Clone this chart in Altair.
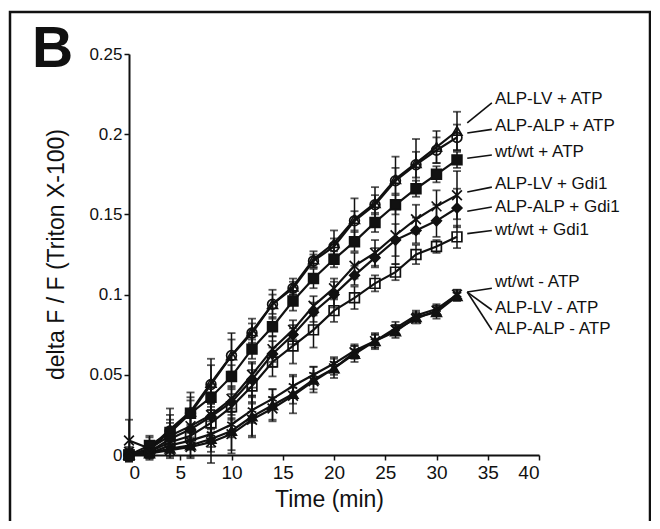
import altair as alt
import pandas as pd

times = list(range(0, 33, 2))

series = ["ALP-LV + ATP", "ALP-ALP + ATP", "wt/wt + ATP",
          "ALP-LV + Gdi1", "ALP-ALP + Gdi1", "wt/wt + Gdi1",
          "wt/wt - ATP", "ALP-LV - ATP", "ALP-ALP - ATP"]

alp_lv_atp = [0.000, 0.004, 0.016, 0.027, 0.045, 0.062, 0.077, 0.094, 0.105, 0.122, 0.132, 0.147, 0.157, 0.172, 0.182, 0.192, 0.202]
alp_lv_atp_err = [0.004, 0.007, 0.013, 0.012, 0.015, 0.014, 0.008, 0.009, 0.005, 0.005, 0.008, 0.013, 0.010, 0.014, 0.015, 0.010, 0.012]

alp_alp_atp = [0.000, 0.003, 0.015, 0.026, 0.044, 0.062, 0.076, 0.094, 0.104, 0.121, 0.130, 0.146, 0.156, 0.171, 0.181, 0.190, 0.198]
alp_alp_atp_err = [0.003, 0.005, 0.010, 0.010, 0.012, 0.010, 0.006, 0.006, 0.004, 0.004, 0.005, 0.006, 0.006, 0.008, 0.008, 0.008, 0.008]

wt_atp = [0.000, 0.006, 0.014, 0.026, 0.036, 0.049, 0.066, 0.080, 0.096, 0.110, 0.122, 0.133, 0.145, 0.156, 0.166, 0.175, 0.184]
wt_atp_err = [0.002, 0.006, 0.008, 0.008, 0.008, 0.007, 0.006, 0.006, 0.006, 0.006, 0.005, 0.006, 0.006, 0.006, 0.005, 0.005, 0.005]

alp_lv_gdi = [0.009, 0.004, 0.012, 0.018, 0.025, 0.035, 0.050, 0.066, 0.078, 0.093, 0.104, 0.118, 0.126, 0.137, 0.147, 0.155, 0.162]
alp_lv_gdi_err = [0.013, 0.004, 0.008, 0.008, 0.008, 0.008, 0.008, 0.008, 0.006, 0.006, 0.006, 0.008, 0.008, 0.018, 0.009, 0.010, 0.015]

alp_alp_gdi = [0.000, 0.002, 0.010, 0.016, 0.024, 0.033, 0.047, 0.063, 0.075, 0.089, 0.100, 0.112, 0.123, 0.134, 0.140, 0.146, 0.154]
alp_alp_gdi_err = [0.003, 0.003, 0.006, 0.008, 0.008, 0.008, 0.010, 0.008, 0.006, 0.006, 0.008, 0.006, 0.006, 0.010, 0.008, 0.010, 0.012]

wt_gdi = [0.000, 0.002, 0.008, 0.012, 0.020, 0.030, 0.043, 0.058, 0.068, 0.078, 0.090, 0.098, 0.107, 0.114, 0.125, 0.130, 0.136]
wt_gdi_err = [0.003, 0.003, 0.006, 0.007, 0.008, 0.008, 0.010, 0.009, 0.011, 0.011, 0.007, 0.007, 0.005, 0.005, 0.006, 0.004, 0.007]

wt_noatp = [0.000, 0.001, 0.006, 0.009, 0.013, 0.019, 0.028, 0.035, 0.043, 0.050, 0.057, 0.065, 0.071, 0.079, 0.087, 0.091, 0.100]
wt_noatp_err = [0.003, 0.002, 0.004, 0.005, 0.008, 0.008, 0.008, 0.006, 0.006, 0.005, 0.004, 0.004, 0.004, 0.004, 0.003, 0.003, 0.003]

alp_lv_noatp = [0.000, 0.001, 0.004, 0.006, 0.010, 0.015, 0.024, 0.031, 0.038, 0.047, 0.054, 0.063, 0.071, 0.077, 0.086, 0.089, 0.099]
alp_lv_noatp_err = [0.004, 0.003, 0.006, 0.008, 0.015, 0.014, 0.013, 0.010, 0.012, 0.008, 0.006, 0.005, 0.005, 0.004, 0.003, 0.004, 0.003]

alp_alp_noatp = [0.002, 0.001, 0.003, 0.005, 0.008, 0.013, 0.022, 0.029, 0.037, 0.046, 0.054, 0.064, 0.071, 0.078, 0.085, 0.090, 0.100]
alp_alp_noatp_err = [0.003, 0.002, 0.004, 0.006, 0.006, 0.010, 0.010, 0.007, 0.005, 0.005, 0.004, 0.004, 0.004, 0.003, 0.003, 0.003, 0.003]

values = [alp_lv_atp, alp_alp_atp, wt_atp, alp_lv_gdi, alp_alp_gdi, wt_gdi,
          wt_noatp, alp_lv_noatp, alp_alp_noatp]
errors = [alp_lv_atp_err, alp_alp_atp_err, wt_atp_err, alp_lv_gdi_err, alp_alp_gdi_err,
          wt_gdi_err, wt_noatp_err, alp_lv_noatp_err, alp_alp_noatp_err]

X_PATH = "M-1,-1L1,1M-1,1L1,-1"
STAR_PATH = "M0,-1L0,1M-0.87,-0.5L0.87,0.5M-0.87,0.5L0.87,-0.5"
shapes = ["triangle-up", "circle", "square", X_PATH, "diamond", "square",
          STAR_PATH, "triangle-up", X_PATH]
fills = ["transparent", "transparent", "#111111", "transparent", "#111111",
         "transparent", "transparent", "#111111", "transparent"]

# label annotation values (y in data units)
label_y = [0.222, 0.205, 0.189, 0.169, 0.1546, 0.140, 0.108, 0.0916, 0.0786]
leader_from = [0.207, 0.2007, 0.185, 0.164, 0.152, 0.138, 0.1016, 0.1016, 0.1016]
leader_to = [0.2195, 0.203, 0.187, 0.167, 0.1546, 0.140, 0.104, 0.0904, 0.0779]

rows = []
for s, vals, errs in zip(series, values, errors):
    for t, v, e in zip(times, vals, errs):
        rows.append({"series": s, "t": t, "v": v, "lo": v - e, "hi": v + e})
df = pd.DataFrame(rows)

lab = pd.DataFrame({"series": series, "ly": label_y, "fy": leader_from, "ty": leader_to,
                    "lt": [35.7] * 9, "t0": [33.0] * 9, "t1": [35.4] * 9})

INK = "#111111"
xs = alt.Scale(domain=[0, 40], nice=False, zero=False)
ys = alt.Scale(domain=[0, 0.25], nice=False, zero=False)

xaxis = alt.Axis(values=[0, 5, 10, 15, 20, 25, 30, 35, 40], format="d", title="Time (min)",
                 labelFontSize=19, titleFontSize=23, tickSize=5, labelPadding=3,
                 domainWidth=2, domainColor=INK, tickColor=INK, tickWidth=1.5,
                 labelColor=INK, titleColor=INK, grid=False, titleX=200, titleY=51,
                 titleBaseline="alphabetic", titleFontWeight="normal",
                 labelFont="Liberation Sans", titleFont="Liberation Sans")
yaxis = alt.Axis(values=[0, 0.05, 0.1, 0.15, 0.2, 0.25], format="~g",
                 title="delta F / F (Triton X-100)",
                 labelFontSize=17, titleFontSize=23, tickSize=5, labelPadding=2,
                 domainWidth=2, domainColor=INK, tickColor=INK, tickWidth=1.5,
                 labelColor=INK, titleColor=INK, grid=False, titleX=-73, titleY=200,
                 titleAngle=270, titleAlign="center", titleBaseline="middle",
                 titleFontWeight="normal",
                 labelFont="Liberation Sans", titleFont="Liberation Sans")

base = alt.Chart(df)

lines = base.mark_line(color=INK, strokeWidth=2.2).encode(
    x=alt.X("t:Q", scale=xs, axis=xaxis),
    y=alt.Y("v:Q", scale=ys, axis=yaxis),
    detail="series:N",
)

bars = base.mark_rule(color=INK, strokeWidth=1.5).encode(
    x="t:Q", y="lo:Q", y2="hi:Q")
cap_hi = base.mark_tick(orient="horizontal", size=8, thickness=1.8, color=INK).encode(
    x="t:Q", y="hi:Q")
cap_lo = base.mark_tick(orient="horizontal", size=8, thickness=1.8, color=INK).encode(
    x="t:Q", y="lo:Q")

points = base.mark_point(filled=True, stroke=INK, strokeWidth=1.7, size=95, opacity=1).encode(
    x="t:Q", y="v:Q",
    shape=alt.Shape("series:N", scale=alt.Scale(domain=series, range=shapes), legend=None),
    fill=alt.Fill("series:N", scale=alt.Scale(domain=series, range=fills), legend=None),
)

leaders = alt.Chart(lab).mark_rule(color=INK, strokeWidth=1.6).encode(
    x="t0:Q", x2="t1:Q", y="fy:Q", y2="ty:Q")

labels = alt.Chart(lab).mark_text(align="left", baseline="middle", fontSize=17,
                                  font="Liberation Sans", color=INK).encode(
    x="lt:Q", y="ly:Q", text="series:N")

one = pd.DataFrame({"k": [0]})
frame = alt.Chart(one).mark_rect(fillOpacity=0, stroke=INK, strokeWidth=2.5).encode(
    x=alt.value(-119), x2=alt.value(521), y=alt.value(-42), y2=alt.value(490))
letter = alt.Chart(one).mark_text(text="B", fontSize=57, fontWeight="bold",
                                  font="Liberation Sans", align="left",
                                  baseline="alphabetic", color=INK).encode(
    x=alt.value(-97), y=alt.value(13))

chart = alt.layer(lines, bars, cap_hi, cap_lo, points, leaders, labels, frame, letter).properties(
    width=410, height=401,
    padding={"left": 121, "top": 46, "right": 112, "bottom": 66},
    autosize=alt.AutoSizeParams(type="none"),
).configure_view(stroke="transparent")

chart.save("out.html", embed_options={"renderer": "svg", "actions": False})
